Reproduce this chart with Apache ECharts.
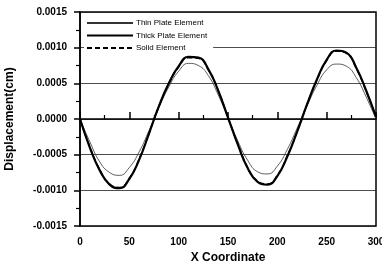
<!DOCTYPE html>
<html>
<head>
<meta charset="utf-8">
<script src="https://cdn.jsdelivr.net/npm/echarts@6/dist/echarts.min.js"></script>
<style>
  html, body { margin: 0; padding: 0; background: #fff; }
</style>
</head>
<body>
<div id="chart" style="width:382px;height:273px;"></div>
<script>
var xCoord = [0, 10, 20, 30, 40, 50, 60, 70, 80, 90, 100, 110, 120, 130, 140, 150,
  160, 170, 180, 190, 200, 210, 220, 230, 240, 250, 260, 270, 280, 290, 300];

var thinPlate = [0, -0.00032, -0.00060, -0.00075, -0.00079, -0.00068, -0.00046, -0.00016,
  0.00016, 0.00045, 0.00067, 0.00078, 0.00075, 0.00061, 0.00034, 0.00002,
  -0.00031, -0.00058, -0.00074, -0.00077, -0.00066, -0.00043, -0.00013,
  0.00018, 0.00047, 0.00069, 0.00077, 0.00074, 0.00058, 0.00031, 0.00000];

var thickPlate = [0, -0.00040, -0.00072, -0.00092, -0.00097, -0.00084, -0.00057, -0.00020,
  0.00018, 0.00050, 0.00074, 0.00087, 0.00086, 0.00070, 0.00040, 0.00002,
  -0.00036, -0.00069, -0.00088, -0.00092, -0.00080, -0.00053, -0.00018,
  0.00020, 0.00055, 0.00083, 0.00096, 0.00093, 0.00072, 0.00040, 0.00003];

var solidElem = [0, -0.00039, -0.00071, -0.00091, -0.00096, -0.00083, -0.00056, -0.00020,
  0.00018, 0.00049, 0.00073, 0.00086, 0.00085, 0.00069, 0.00040, 0.00002,
  -0.00035, -0.00068, -0.00087, -0.00091, -0.00079, -0.00052, -0.00018,
  0.00020, 0.00054, 0.00082, 0.00095, 0.00092, 0.00071, 0.00039, 0.00003];

var seriesNames = ['Thin Plate Element', 'Thick Plate Element', 'Solid Element'];

function pairs(ys) {
  return xCoord.map(function (x, i) { return [x, ys[i]]; });
}

var font = 'Liberation Sans, Arial, sans-serif';

var option = {
  animation: false,
  grid: {
    left: 80, right: 6, top: 12, bottom: 47,
    outerBoundsMode: 'none',
    show: true, borderColor: '#000', borderWidth: 1.5, backgroundColor: 'transparent'
  },
  legend: {
    data: seriesNames,
    orient: 'vertical',
    left: 84, top: 17,
    itemWidth: 46, itemHeight: 8, itemGap: 4.5,
    padding: [2, 6, 3, 2],
    backgroundColor: '#fff',
    itemStyle: { opacity: 0 },
    textStyle: { fontFamily: font, fontSize: 8, color: '#000', padding: [0, 0, 0, -2] }
  },
  xAxis: {
    type: 'value',
    min: 0, max: 300, interval: 50,
    name: 'X Coordinate',
    nameLocation: 'middle',
    nameGap: 24,
    nameTextStyle: { fontFamily: font, fontSize: 12, fontWeight: 'bold', color: '#000' },
    axisLine: { lineStyle: { color: '#000', width: 1.5 } },
    axisTick: { inside: true, length: 7, lineStyle: { color: '#000', width: 1.5 } },
    minorTick: { show: true, splitNumber: 2, length: 4, lineStyle: { color: '#000', width: 1.2 } },
    axisLabel: { fontFamily: font, fontSize: 10, fontWeight: 'bold', color: '#000', margin: 11 },
    splitLine: { show: false }
  },
  yAxis: {
    type: 'value',
    min: -0.0015, max: 0.0015, interval: 0.0005,
    name: 'Displacement(cm)',
    nameLocation: 'middle',
    nameGap: 64,
    nameTextStyle: { fontFamily: font, fontSize: 12, fontWeight: 'bold', color: '#000' },
    axisLine: { lineStyle: { color: '#000', width: 1.5 } },
    axisTick: { length: 6, lineStyle: { color: '#000', width: 1.5 } },
    minorTick: { show: true, splitNumber: 2, length: 4, lineStyle: { color: '#000', width: 1.2 } },
    axisLabel: {
      fontFamily: font, fontSize: 10, fontWeight: 'bold', color: '#000', margin: 13,
      formatter: function (v) { return v.toFixed(4); }
    },
    splitLine: { show: true, lineStyle: { color: '#222', width: 0.8 } }
  },
  series: [
    {
      name: seriesNames[0], type: 'line', data: pairs(thinPlate),
      smooth: 0.5, symbol: 'none', z: 3,
      lineStyle: { color: '#333', width: 0.8 },
      itemStyle: { color: '#333' }
    },
    {
      name: seriesNames[1], type: 'line', data: pairs(thickPlate),
      smooth: 0.5, symbol: 'none', z: 4,
      lineStyle: { color: '#000', width: 2.2 },
      itemStyle: { color: '#000' }
    },
    {
      name: seriesNames[2], type: 'line', data: pairs(solidElem),
      smooth: 0.5, symbol: 'none', z: 2,
      lineStyle: { color: '#000', width: 1.5, type: [5, 3] },
      itemStyle: { color: '#000' }
    }
  ]
};

var myChart = echarts.init(document.getElementById('chart'));
myChart.setOption(option);
</script>
</body>
</html>
